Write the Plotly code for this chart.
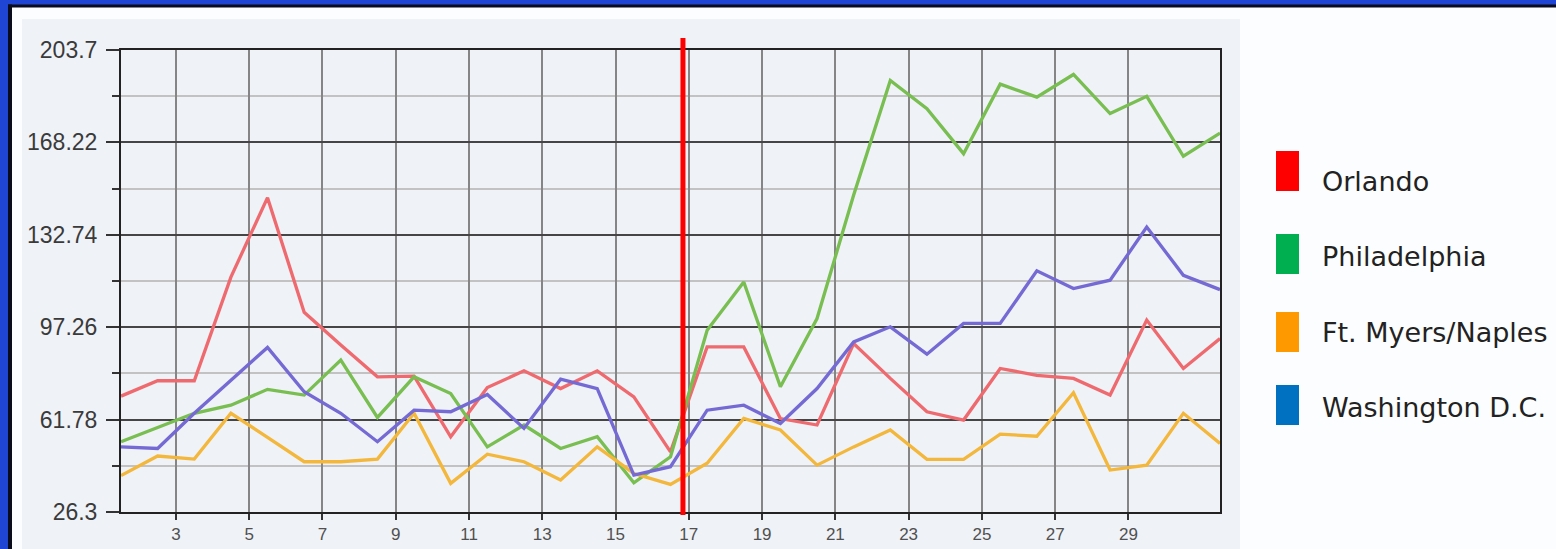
import plotly.graph_objects as go

# ---- data -------------------------------------------------------------
day_positions = [d + 0.5 for d in range(1, 32)]   # one sample per day, plotted mid-day

cities = ["Orlando", "Philadelphia", "Ft. Myers/Naples", "Washington D.C."]

orlando = [70.8, 76.7, 76.7, 116.5, 147.0, 103.0, 90.4, 78.2, 78.5, 55.2,
           74.1, 80.5, 73.7, 80.5, 70.5, 49.4, 89.7, 89.7, 62.2, 59.7,
           91.0, 77.6, 64.8, 61.6, 81.4, 78.8, 77.6, 71.2, 100.0, 81.4, 92.9]
philadelphia = [53.3, 58.8, 64.2, 67.3, 73.4, 71.2, 84.6, 62.6, 78.2, 71.8,
                51.3, 59.7, 50.7, 55.2, 37.5, 47.5, 96.1, 114.6, 74.4, 100.6,
                148.0, 192.0, 181.2, 163.9, 190.6, 185.6, 194.3, 179.3, 185.9, 162.9, 171.8]
ft_myers = [40.3, 47.8, 46.6, 64.2, 55.0, 45.6, 45.6, 46.6, 64.2, 37.3,
            48.5, 45.6, 38.6, 51.3, 41.1, 36.9, 45.0, 62.2, 57.8, 44.3,
            51.3, 57.8, 46.5, 46.5, 56.2, 55.4, 72.1, 42.4, 44.3, 64.2, 52.6]
washington = [51.3, 50.7, 64.2, 76.9, 89.5, 72.5, 64.2, 53.3, 65.4, 64.8,
              71.4, 58.4, 77.3, 73.7, 40.5, 43.7, 65.4, 67.3, 60.3, 73.7,
              91.6, 97.4, 86.9, 98.7, 98.7, 118.9, 112.1, 115.3, 135.7, 117.2, 111.7]

y_tick_values = [26.3, 61.78, 97.26, 132.74, 168.22, 203.7]
y_tick_labels = ["26.3", "61.78", "97.26", "132.74", "168.22", "203.7"]
y_minor_values = [44.04, 79.52, 115.0, 150.48, 185.96]
x_tick_values = [3, 5, 7, 9, 11, 13, 15, 17, 19, 21, 23, 25, 27, 29]
marker_day = 16.84

series = [orlando, philadelphia, ft_myers, washington]
line_colors = ["#EE6A6E", "#78BE50", "#F3B73C", "#7569D4"]
legend_colors = ["#FF0000", "#00B050", "#FF9900", "#0070C0"]

# ---- geometry ---------------------------------------------------------
W, H = 1556, 549
PL, PR, PT, PB = 121, 1220, 50, 512
X_RANGE = [1.5, 31.5]


def px(x):
    return (x - PL) / (PR - PL)


def py(y):
    return (PB - y) / (PB - PT)


fig = go.Figure()
for name, vals, col in zip(cities, series, line_colors):
    fig.add_trace(go.Scatter(x=day_positions, y=vals, mode="lines", name=name,
                             line=dict(color=col, width=3.3), showlegend=False))

shapes = []
# slide frame: light panel, blue band and dark edge
shapes.append(dict(type="rect", xref="paper", yref="paper", layer="below",
                   x0=px(22), x1=px(1240), y0=py(H), y1=py(19),
                   fillcolor="#EFF2F7", line=dict(width=0)))
shapes.append(dict(type="rect", xref="paper", yref="paper", layer="below",
                   x0=px(0), x1=px(W), y0=py(5), y1=py(0),
                   fillcolor="#1F45D4", line=dict(width=0)))
shapes.append(dict(type="rect", xref="paper", yref="paper", layer="below",
                   x0=px(8), x1=px(W), y0=py(7.5), y1=py(4.5),
                   fillcolor="#0B0B1E", line=dict(width=0)))
shapes.append(dict(type="rect", xref="paper", yref="paper", layer="below",
                   x0=px(0), x1=px(8), y0=py(H), y1=py(0),
                   fillcolor="#1F45D4", line=dict(width=0)))
shapes.append(dict(type="rect", xref="paper", yref="paper", layer="below",
                   x0=px(8), x1=px(12), y0=py(H), y1=py(4.5),
                   fillcolor="#0B0B1E", line=dict(width=0)))

# red marker line across the chart
mx = (marker_day - X_RANGE[0]) / (X_RANGE[1] - X_RANGE[0])
shapes.append(dict(type="line", xref="paper", yref="paper", layer="above",
                   x0=mx, x1=mx, y0=py(515), y1=py(38),
                   line=dict(color="#FF0000", width=5)))

# legend swatches and labels
swatch_centers = [171, 254, 332, 405]
label_centers = [181, 256, 332, 407]
annotations = []
for name, col, sc, lc in zip(cities, legend_colors, swatch_centers, label_centers):
    shapes.append(dict(type="rect", xref="paper", yref="paper",
                       x0=px(1276), x1=px(1299), y0=py(sc + 20), y1=py(sc - 20),
                       fillcolor=col, line=dict(width=0)))
    annotations.append(dict(xref="paper", yref="paper", x=px(1320), y=py(lc),
                            xanchor="left", yanchor="middle", showarrow=False,
                            text=name, font=dict(family="DejaVu Sans", size=27, color="#222222")))

fig.update_layout(
    width=W, height=H,
    margin=dict(l=PL, r=W - PR, t=PT, b=H - PB),
    paper_bgcolor="#FCFDFE",
    plot_bgcolor="#F1F4F8",
    shapes=shapes,
    annotations=annotations,
    showlegend=False,
)

fig.update_xaxes(
    range=X_RANGE, tickmode="array", tickvals=x_tick_values, automargin=False,
    showgrid=True, gridcolor="#858585", gridwidth=1.5, zeroline=False,
    showline=True, linecolor="#222222", linewidth=2, mirror=True,
    ticks="outside", ticklen=6, tickwidth=2, tickcolor="#333333",
    tickfont=dict(family="Liberation Sans", size=17, color="#505050"),
)
fig.update_yaxes(
    range=[26.3, 203.7], tickmode="array", tickvals=y_tick_values, ticktext=y_tick_labels,
    automargin=False,
    showgrid=True, gridcolor="#454545", gridwidth=2, zeroline=False,
    showline=True, linecolor="#222222", linewidth=2, mirror=True,
    ticks="outside", ticklen=13, tickwidth=2, tickcolor="#333333",
    ticklabelstandoff=4,
    tickfont=dict(family="Liberation Sans", size=23, color="#3A3A3A"),
    minor=dict(tickmode="array", tickvals=y_minor_values, ticks="outside", ticklen=7,
               tickwidth=2, tickcolor="#333333", showgrid=True,
               gridcolor="#C2C2C2", gridwidth=2),
)

fig.write_html("out.html")
